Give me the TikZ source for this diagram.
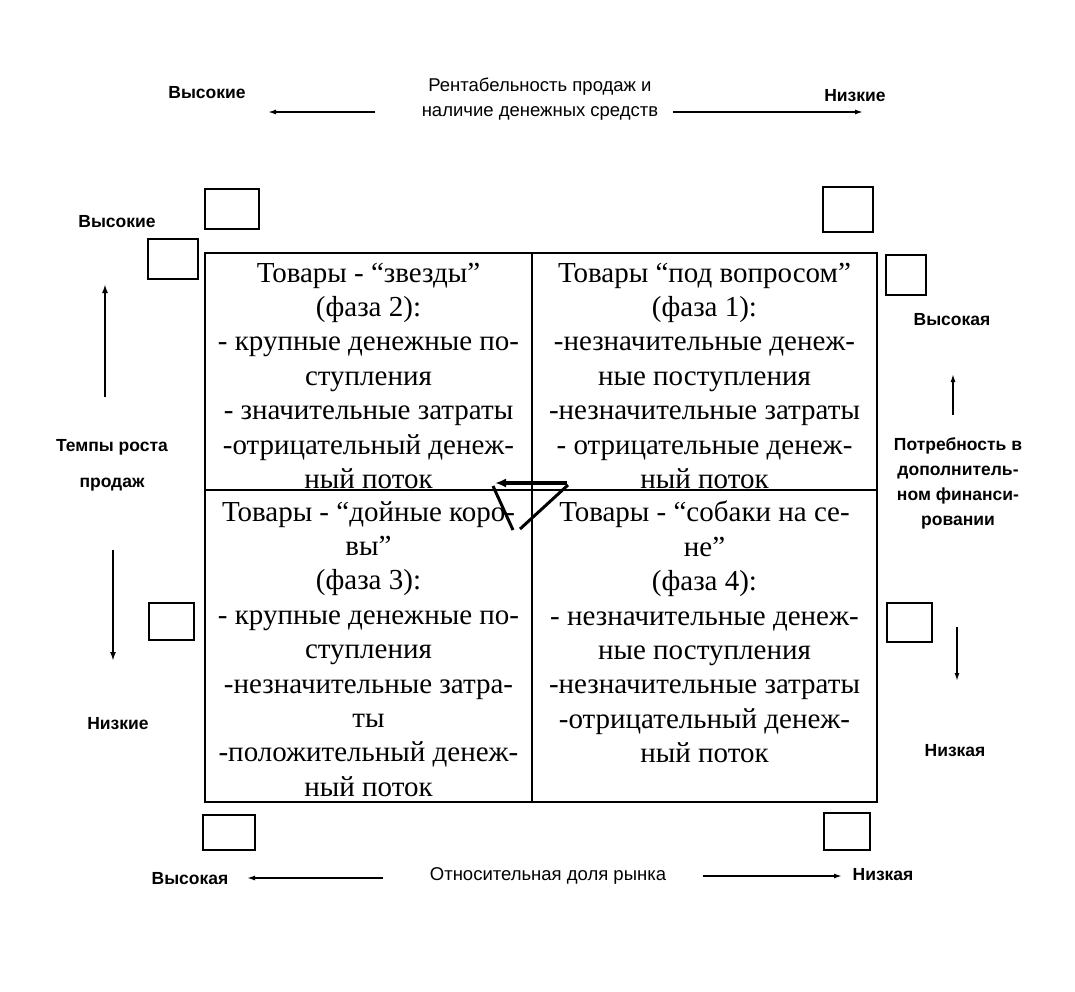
\documentclass[tikz,border=0pt]{standalone}
\usepackage{fontspec}
\setmainfont{Liberation Serif}
\newfontfamily\labfont{Liberation Sans}
\usetikzlibrary{arrows.meta}
\tikzset{
  sq/.style={draw, line width=2pt, inner sep=0pt},
  cellbox/.style={draw, line width=2pt, inner sep=0pt},
  celltext/.style={align=center, inner sep=0pt, anchor=north,
    font=\fontsize{29}{34.4}\selectfont},
  boldlab/.style={font=\labfont\bfseries\fontsize{17.5}{25}\selectfont, align=center, inner sep=0pt},
  reglab/.style={font=\labfont\fontsize{18.5}{25}\selectfont, align=center, inner sep=0pt},
  axarrow/.style={line width=1.5pt, -{Latex[length=8pt,width=5pt]}},
  vaxarrow/.style={line width=2.4pt, -{Latex[length=9pt,width=6pt]}},
  cyc/.style={line width=3.5pt},
}
\begin{document}
\begin{tikzpicture}[x=1pt,y=-1pt]
\useasboundingbox[fill=white] (0,0) rectangle (1075,991);

% main matrix cells
\node[cellbox, minimum width=327pt, minimum height=237pt] (q1) at (368.5,371.5) {};
\node[cellbox, minimum width=345pt, minimum height=237pt] (q2) at (704.5,371.5) {};
\node[cellbox, minimum width=327pt, minimum height=312pt] (q3) at (368.5,646) {};
\node[cellbox, minimum width=345pt, minimum height=312pt] (q4) at (704.5,646) {};

% cell texts
\node[celltext] (t1) at (368.5,262.5) {Товары - “звезды”\\(фаза 2):\\- крупные денежные по-\\ступления\\- значительные затраты\\-отрицательный денеж-\\ный поток};
\node[celltext] (t2) at (704.5,262.5) {Товары “под вопросом”\\(фаза 1):\\-незначительные денеж-\\ные поступления\\-незначительные затраты\\- отрицательные денеж-\\ный поток};
\node[celltext] (t3) at (368.5,501) {Товары - “дойные коро-\\вы”\\(фаза 3):\\- крупные денежные по-\\ступления\\-незначительные затра-\\ты\\-положительный денеж-\\ный поток};
\node[celltext] (t4) at (704.5,501) {Товары - “собаки на се-\\не”\\(фаза 4):\\- незначительные денеж-\\ные поступления\\-незначительные затраты\\-отрицательный денеж-\\ный поток};

% small squares
\node[sq, minimum width=54pt, minimum height=40pt] (s1) at (232,209) {};
\node[sq, minimum width=50pt, minimum height=45pt] (s2) at (848,209.5) {};
\node[sq, minimum width=50pt, minimum height=40pt] (s3) at (173,259) {};
\node[sq, minimum width=40pt, minimum height=40pt] (s4) at (906,275) {};
\node[sq, minimum width=45pt, minimum height=37pt] (s5) at (171.5,621.5) {};
\node[sq, minimum width=45pt, minimum height=39pt] (s6) at (909.5,622.5) {};
\node[sq, minimum width=52pt, minimum height=35pt] (s7) at (229,832.5) {};
\node[sq, minimum width=46pt, minimum height=37pt] (s8) at (847,831.5) {};

% cycle arrows in the centre
\coordinate (c1) at (567,483);
\coordinate (c2) at (495,483);
\coordinate (c3) at (493,486);
\coordinate (c4) at (513,530);
\coordinate (c5) at (520,529);
\coordinate (c6) at (568,485);
\draw[cyc, -{Latex[length=11pt,width=9pt]}] (c1) -- (c2);
\draw[line width=3pt] (c3) -- (c4);
\draw[line width=3pt] (c5) -- (c6);

% top axis
\node[boldlab] (thigh) at (207,93) {Высокие};
\node[reglab] (ttitle) at (540,99.5) {Рентабельность продаж и\\наличие денежных средств};
\node[boldlab] (tlow) at (855,96) {Низкие};
\coordinate (ta1) at (375,112);
\coordinate (ta2) at (268,112);
\coordinate (ta3) at (673,112);
\coordinate (ta4) at (863,112);
\draw[axarrow] (ta1) -- (ta2);
\draw[axarrow] (ta3) -- (ta4);

% left axis
\node[boldlab] (lhigh) at (117,222) {Высокие};
\node[boldlab, font=\labfont\bfseries\fontsize{17.5}{36}\selectfont] (ltitle) at (112,465) {Темпы роста\\продаж};
\node[boldlab] (llow) at (118,724) {Низкие};
\coordinate (la1) at (105,397);
\coordinate (la2) at (105,284);
\coordinate (la3) at (113,550);
\coordinate (la4) at (113,661);
\draw[vaxarrow] (la1) -- (la2);
\draw[vaxarrow] (la3) -- (la4);

% right axis
\node[boldlab] (rhigh) at (952,320) {Высокая};
\node[boldlab] (rtitle) at (958,483.5) {Потребность в\\дополнитель-\\ном финанси-\\ровании};
\node[boldlab] (rlow) at (955,751) {Низкая};
\coordinate (ra1) at (953,415);
\coordinate (ra2) at (953,374);
\coordinate (ra3) at (957,627);
\coordinate (ra4) at (957,681);
\draw[axarrow] (ra1) -- (ra2);
\draw[axarrow] (ra3) -- (ra4);

% bottom axis
\node[boldlab] (bhigh) at (190,879) {Высокая};
\node[reglab] (btitle) at (548,876) {Относительная доля рынка};
\node[boldlab] (blow) at (883,875) {Низкая};
\coordinate (ba1) at (383,878);
\coordinate (ba2) at (247,878);
\coordinate (ba3) at (703,876);
\coordinate (ba4) at (842,876);
\draw[axarrow] (ba1) -- (ba2);
\draw[axarrow] (ba3) -- (ba4);
\end{tikzpicture}
\end{document}
